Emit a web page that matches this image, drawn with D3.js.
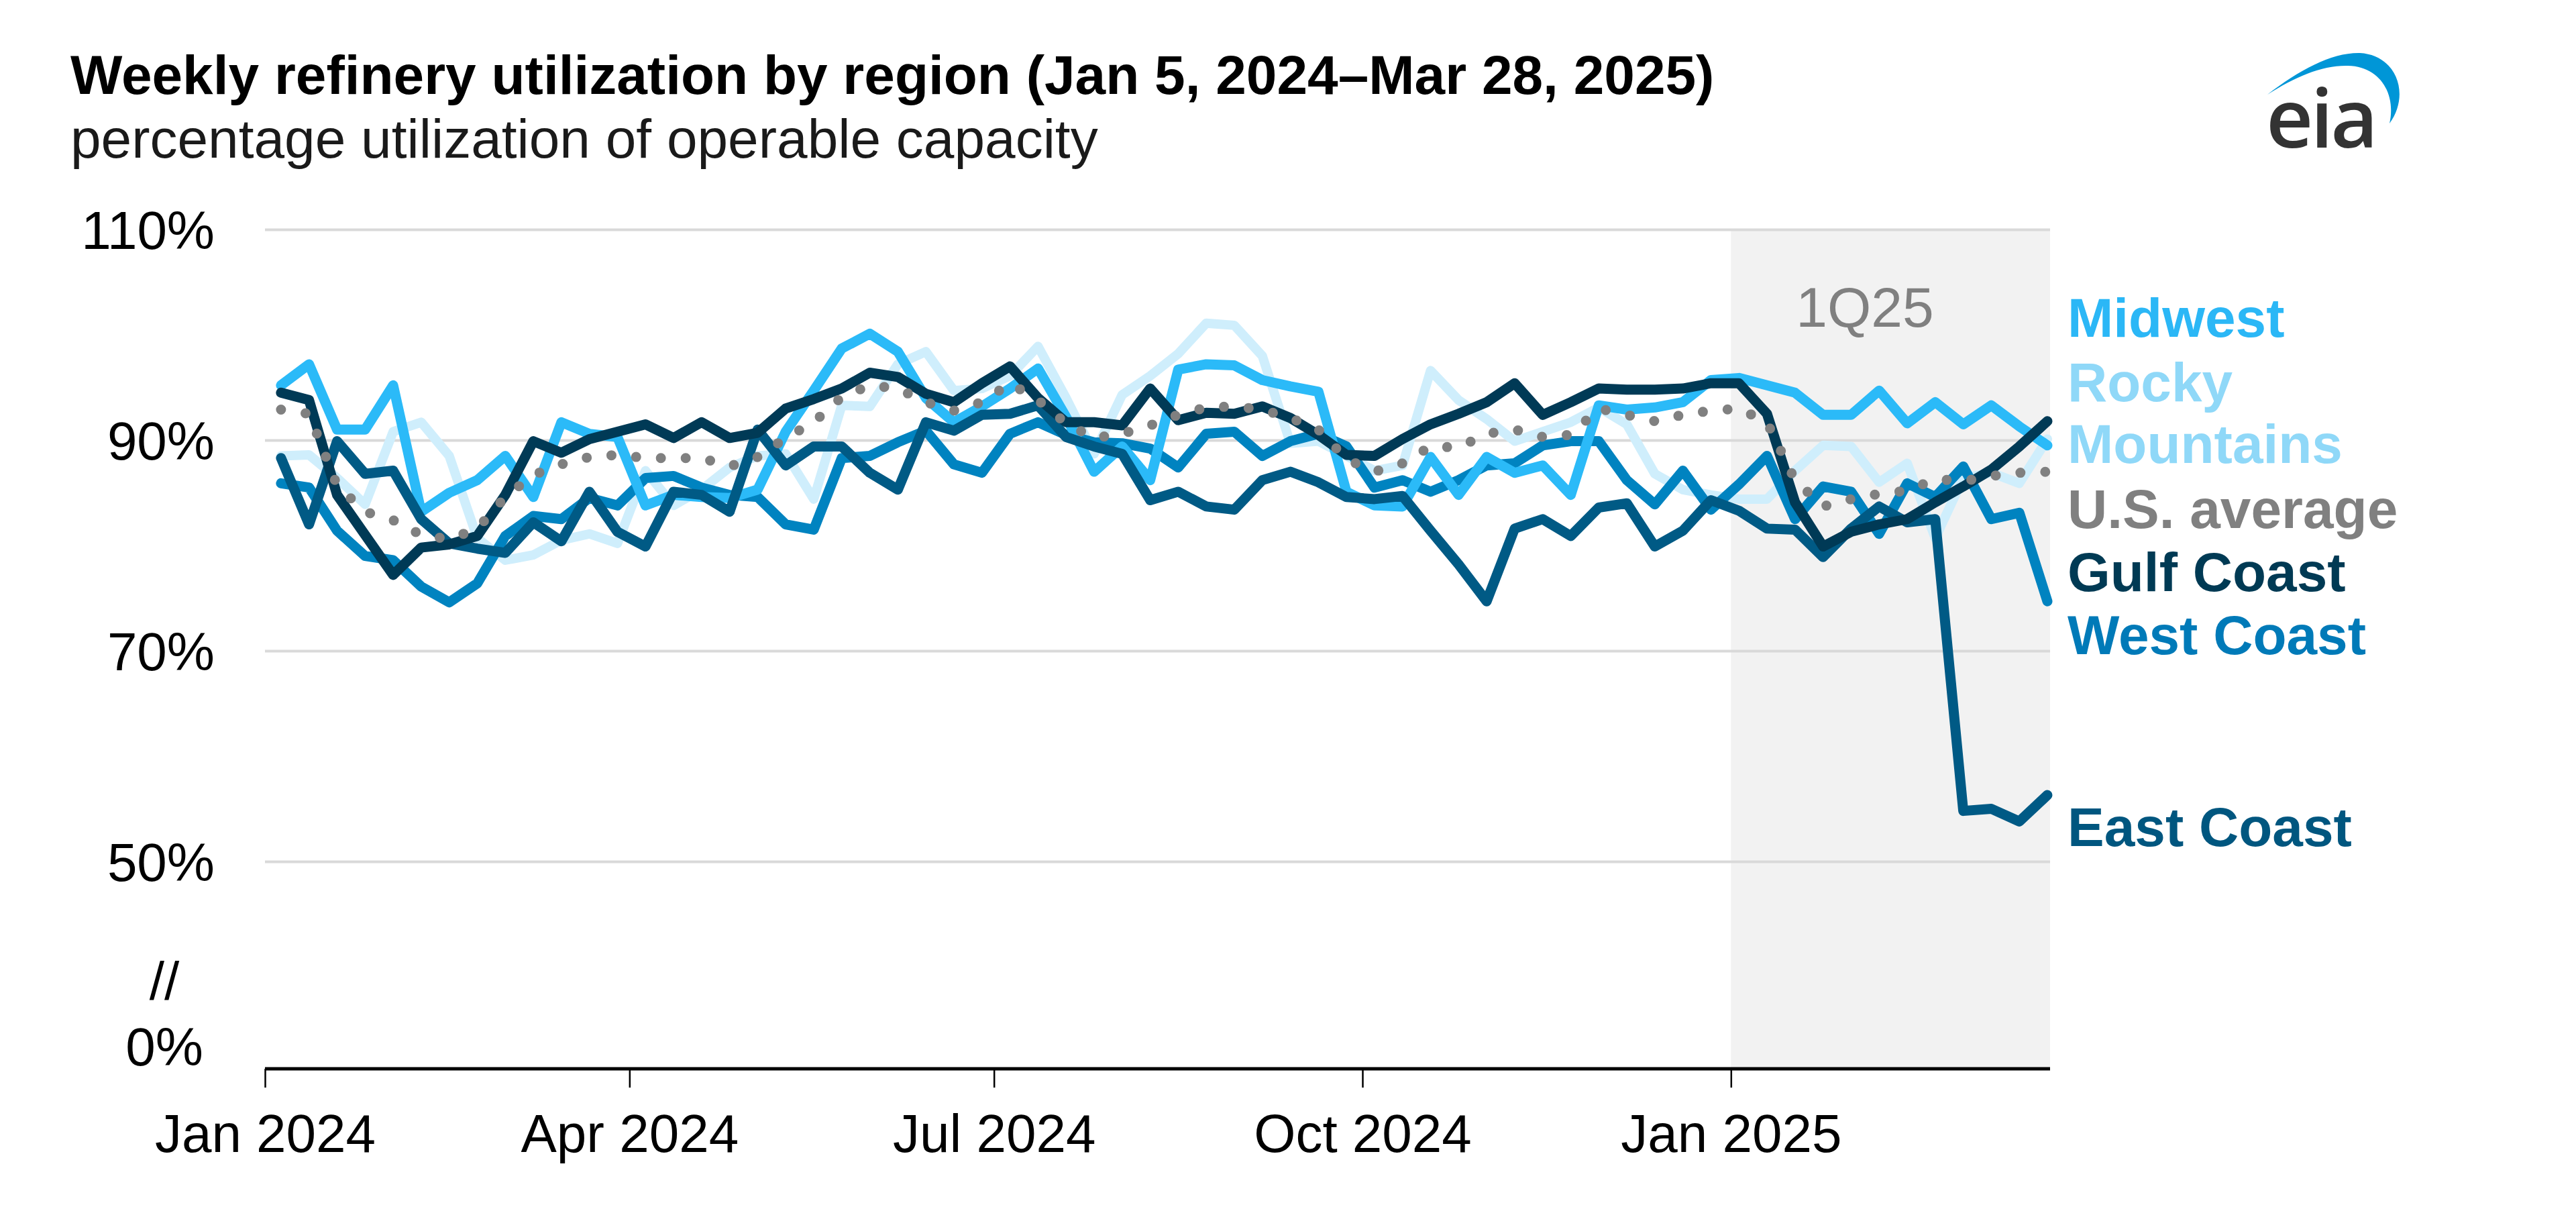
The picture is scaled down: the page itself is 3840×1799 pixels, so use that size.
<!DOCTYPE html>
<html>
<head>
<meta charset="utf-8">
<script src="https://cdn.jsdelivr.net/npm/d3@7"></script>
<style>
  body { margin: 0; background: #fff; }
  text { font-family: "Liberation Sans", Arial, sans-serif; }
</style>
</head>
<body>
<div id="mainChart"></div>
<script>
// weekly data, week ending dates
const weekDates = [
    "2024-01-05", "2024-01-12", "2024-01-19", "2024-01-26", "2024-02-02", "2024-02-09", "2024-02-16", "2024-02-23",
    "2024-03-01", "2024-03-08", "2024-03-15", "2024-03-22", "2024-03-29", "2024-04-05", "2024-04-12", "2024-04-19",
    "2024-04-26", "2024-05-03", "2024-05-10", "2024-05-17", "2024-05-24", "2024-05-31", "2024-06-07", "2024-06-14",
    "2024-06-21", "2024-06-28", "2024-07-05", "2024-07-12", "2024-07-19", "2024-07-26", "2024-08-02", "2024-08-09",
    "2024-08-16", "2024-08-23", "2024-08-30", "2024-09-06", "2024-09-13", "2024-09-20", "2024-09-27", "2024-10-04",
    "2024-10-11", "2024-10-18", "2024-10-25", "2024-11-01", "2024-11-08", "2024-11-15", "2024-11-22", "2024-11-29",
    "2024-12-06", "2024-12-13", "2024-12-20", "2024-12-27", "2025-01-03", "2025-01-10", "2025-01-17", "2025-01-24",
    "2025-01-31", "2025-02-07", "2025-02-14", "2025-02-21", "2025-02-28", "2025-03-07", "2025-03-14", "2025-03-21"
];

const midwest = [
    95.2, 97.2, 91.0, 91.0, 95.2, 83.2, 85.0, 86.2, 88.5, 84.6, 91.7, 90.6, 90.3, 83.8, 84.8, 84.6,
    84.5, 85.3, 90.8, 94.7, 98.7, 100.1, 98.4, 94.0, 91.7, 93.2, 94.9, 96.8, 92.2, 87.0, 89.4, 86.2,
    96.7, 97.2, 97.1, 95.7, 95.1, 94.6, 85.1, 83.8, 83.7, 88.4, 84.8, 88.4, 86.9, 87.6, 84.8, 93.3,
    92.9, 93.1, 93.6, 95.7, 95.9, 95.2, 94.5, 92.4, 92.4, 94.7, 91.6, 93.6, 91.5, 93.3, 91.3, 89.5
];

const rockyMountains = [
    88.5, 88.6, 86.4, 83.9, 90.8, 91.7, 88.5, 80.7, 78.6, 79.1, 80.5, 81.1, 80.2, 87.1, 83.8, 85.3,
    87.4, 88.5, 88.7, 84.4, 93.3, 93.2, 97.2, 98.4, 94.7, 94.9, 96.1, 98.9, 94.0, 88.7, 94.3, 96.1,
    98.2, 101.1, 100.9, 98.0, 89.7, 89.9, 88.5, 87.1, 87.6, 96.6, 93.8, 92.0, 89.9, 90.8, 91.7, 93.1,
    91.5, 86.8, 85.3, 84.8, 84.4, 84.4, 87.1, 89.5, 89.4, 86.0, 87.8, 80.7, 86.4, 86.9, 85.9, 90.1
];

const usAverage = [
    92.9, 92.5, 85.7, 83.2, 82.4, 81.0, 80.6, 81.6, 84.6, 86.7, 87.7, 88.4, 88.6, 88.3, 88.3, 88.3,
    87.5, 88.4, 90.2, 91.7, 94.1, 95.2, 94.9, 93.6, 92.8, 93.6, 95.4, 93.8, 91.6, 90.2, 90.6, 91.4,
    92.4, 93.1, 93.2, 92.9, 92.1, 91.0, 88.2, 87.0, 87.8, 89.4, 89.3, 90.6, 91.0, 90.3, 90.5, 93.0,
    92.4, 91.8, 92.4, 92.8, 93.0, 91.7, 86.2, 83.7, 84.4, 84.9, 85.2, 86.3, 86.1, 86.6, 86.9, 87.0
];

const gulfCoast = [
    94.5, 93.8, 84.8, 81.0, 77.2, 79.8, 80.1, 80.9, 84.8, 89.9, 88.8, 90.1, 90.8, 91.5, 90.2, 91.7,
    90.2, 90.7, 93.0, 93.9, 94.9, 96.4, 96.0, 94.4, 93.6, 95.4, 97.0, 94.0, 91.7, 91.7, 91.4, 94.9,
    91.9, 92.6, 92.5, 93.2, 92.1, 90.5, 88.6, 88.5, 90.1, 91.5, 92.5, 93.6, 95.4, 92.4, 93.6, 94.9,
    94.8, 94.8, 94.9, 95.4, 95.4, 92.5, 84.1, 79.9, 81.3, 82.0, 82.5, 84.1, 85.6, 87.2, 89.4, 91.8
];

const westCoast = [
    85.9, 85.5, 81.4, 79.0, 78.6, 76.1, 74.6, 76.4, 80.9, 82.8, 82.5, 84.5, 83.8, 86.4, 86.6, 85.5,
    84.8, 84.6, 82.0, 81.5, 88.3, 88.5, 89.8, 90.9, 87.7, 86.9, 90.6, 91.7, 90.5, 89.8, 89.7, 89.2,
    87.4, 90.6, 90.8, 88.5, 89.9, 90.6, 89.4, 85.5, 86.2, 85.1, 86.2, 87.6, 87.8, 89.5, 89.9, 89.9,
    86.2, 83.9, 87.1, 83.4, 85.8, 88.5, 82.5, 85.6, 85.1, 81.1, 85.9, 84.6, 87.5, 82.5, 83.1, 74.7
];

const eastCoast = [
    88.3, 82.0, 89.9, 86.8, 87.1, 82.5, 80.2, 79.7, 79.3, 82.2, 80.4, 85.1, 81.3, 79.9, 85.1, 84.8,
    83.2, 91.0, 87.6, 89.4, 89.4, 86.9, 85.3, 91.7, 90.9, 92.4, 92.5, 93.3, 90.3, 89.4, 88.7, 84.3,
    85.1, 83.7, 83.4, 86.2, 87.0, 86.0, 84.6, 84.4, 84.7, 81.4, 78.2, 74.7, 81.6, 82.5, 80.9, 83.6,
    84.0, 79.9, 81.4, 84.3, 83.3, 81.6, 81.5, 78.9, 81.6, 83.7, 82.2, 82.5, 54.8, 55.0, 53.8, 56.3
];

const yTicks = [50, 70, 90, 110];
const xTickDates = ["2024-01-01", "2024-04-01", "2024-07-01", "2024-10-01", "2025-01-01"];
const xTickLabels = ["Jan 2024", "Apr 2024", "Jul 2024", "Oct 2024", "Jan 2025"];

const width = 3840;
const height = 1799;
const axisY = 1593;

const parseDay = d3.utcParse("%Y-%m-%d");

const xScale = d3.scaleUtc()
    .domain([parseDay("2024-01-01"), parseDay("2025-03-21")])
    .range([395, 3052]);

const yScale = d3.scaleLinear()
    .domain([50, 110])
    .range([1284, 342]);

const plotLeft = 395;
const plotRight = 3056;

const svg = d3.create("svg")
    .attr("width", width)
    .attr("height", height)
    .style("display", "block");

svg.append("rect")
    .attr("width", width)
    .attr("height", height)
    .attr("fill", "#fff");

// 1Q25 shading
svg.append("rect")
    .attr("x", xScale(parseDay("2025-01-01")))
    .attr("y", yScale(110))
    .attr("width", plotRight - xScale(parseDay("2025-01-01")))
    .attr("height", axisY - yScale(110))
    .attr("fill", "#f2f2f2");

svg.append("text")
    .attr("x", 2780)
    .attr("y", 487)
    .attr("text-anchor", "middle")
    .attr("fill", "#808080")
    .style("font-size", "84px")
    .text("1Q25");

// gridlines + y labels
const yAxis = svg.append("g")
    .attr("transform", `translate(${plotLeft},0)`)
    .call(d3.axisLeft(yScale)
        .tickValues(yTicks)
        .tickSize(-(plotRight - plotLeft))
        .tickPadding(75)
        .tickFormat(d => d + "%"));

yAxis.select(".domain").remove();
yAxis.selectAll(".tick line")
    .attr("stroke", "#d9d9d9")
    .attr("stroke-width", 4);
yAxis.selectAll(".tick text")
    .attr("dy", "0.36em")
    .attr("fill", "#000")
    .style("font-size", "80px")
    .style("font-family", "'Liberation Sans', Arial, sans-serif");

svg.append("text")
    .attr("x", 245)
    .attr("y", 1490)
    .attr("text-anchor", "middle")
    .style("font-size", "80px")
    .text("//");

svg.append("text")
    .attr("x", 245)
    .attr("y", 1588)
    .attr("text-anchor", "middle")
    .style("font-size", "80px")
    .text("0%");

// lines
const line = d3.line()
    .x((d, i) => xScale(parseDay(weekDates[i])))
    .y(d => yScale(d));

const series = [
    { values: rockyMountains, color: "#cfeefc", width: 14 },
    { values: westCoast, color: "#0083c0", width: 15 },
    { values: midwest, color: "#2bbaf8", width: 15 },
    { values: eastCoast, color: "#005a85", width: 15 },
    { values: gulfCoast, color: "#003a56", width: 15 },
    { values: usAverage, color: "#808080", width: 15, dash: "0 37" }
];

series.forEach(s => {
    svg.append("path")
        .datum(s.values)
        .attr("fill", "none")
        .attr("stroke", s.color)
        .attr("stroke-width", s.width)
        .attr("stroke-linejoin", "round")
        .attr("stroke-linecap", "round")
        .attr("stroke-dasharray", s.dash || null)
        .attr("d", line);
});

// x axis
const xAxis = svg.append("g")
    .attr("transform", `translate(0,${axisY})`)
    .call(d3.axisBottom(xScale)
        .tickValues(xTickDates.map(parseDay))
        .tickSize(28)
        .tickSizeOuter(0)
        .tickPadding(39)
        .tickFormat((d, i) => xTickLabels[i]));

xAxis.select(".domain")
    .attr("d", `M${plotLeft},0H${plotRight}`)
    .attr("stroke", "#000")
    .attr("stroke-width", 5);
xAxis.selectAll(".tick line")
    .attr("stroke", "#000")
    .attr("stroke-width", 2.5);
xAxis.selectAll(".tick text")
    .attr("fill", "#000")
    .style("font-size", "80px")
    .style("font-family", "'Liberation Sans', Arial, sans-serif");

// labels at right
const legend = [
    { label: "Midwest", color: "#2bb7f6", y: 502 },
    { label: "Rocky", color: "#8fd8f8", y: 598 },
    { label: "Mountains", color: "#8fd8f8", y: 690 },
    { label: "U.S. average", color: "#808080", y: 787 },
    { label: "Gulf Coast", color: "#003a54", y: 881 },
    { label: "West Coast", color: "#007ab8", y: 975 },
    { label: "East Coast", color: "#00567f", y: 1261 }
];

svg.selectAll(".legend-label")
    .data(legend)
    .enter()
    .append("text")
    .attr("class", "legend-label")
    .attr("x", 3082)
    .attr("y", d => d.y)
    .attr("fill", d => d.color)
    .style("font-size", "82px")
    .style("font-weight", "bold")
    .text(d => d.label);

// title
svg.append("text")
    .attr("x", 105)
    .attr("y", 140)
    .style("font-size", "82px")
    .style("font-weight", "bold")
    .text("Weekly refinery utilization by region (Jan 5, 2024\u2013Mar 28, 2025)");

svg.append("text")
    .attr("x", 105)
    .attr("y", 235)
    .attr("fill", "#1a1a1a")
    .style("font-size", "82px")
    .text("percentage utilization of operable capacity");

// eia logo
svg.append("path")
    .attr("d", "M3380,141 C3428,104 3476,78 3518,79 C3572,82 3594,140 3562,184 C3572,140 3548,99 3500,98 C3462,97 3422,114 3380,141 Z")
    .attr("fill", "#0096d7");

svg.append("text")
    .attr("x", 3378)
    .attr("y", 220)
    .attr("fill", "#333")
    .style("font-family", "'Open Sans', sans-serif")
    .style("font-size", "122px")
    .style("font-weight", "600")
    .style("letter-spacing", "-4px")
    .text("eia");

mainChart.append(svg.node());
</script>
</body>
</html>
